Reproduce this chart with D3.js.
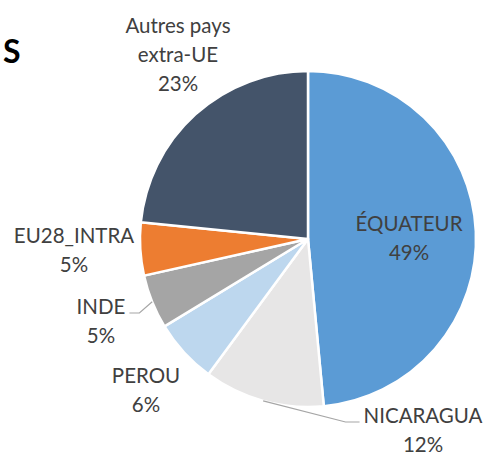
<!DOCTYPE html>
<html lang="fr">
<head>
<meta charset="UTF-8" />
<script src="https://cdnjs.cloudflare.com/ajax/libs/d3/7.8.5/d3.min.js"></script>
<title>Pie</title>
<style>
body { margin: 0; background: #fff; }
svg { display: block; }
text { font-family: Lato, "Open Sans", sans-serif; fill: #404040; }
</style>
</head>
<body>
<div id="chart"></div>
<script>

// data, clockwise from 12 o'clock
const categories = ['ÉQUATEUR', 'NICARAGUA', 'PEROU', 'INDE', 'EU28_INTRA', 'Autres pays extra-UE'];
const shares = [48.5, 11.6, 6.2, 5.2, 5.1, 23.4];
const shareLabels = ['49%', '12%', '6%', '5%', '5%', '23%'];
const colors = ['#5B9BD5', '#E7E6E6', '#BDD7EE', '#A5A5A5', '#ED7D31', '#44546A'];

// label text lines
const labelLines = [
  ['ÉQUATEUR'], ['NICARAGUA'], ['PEROU'], ['INDE'], ['EU28_INTRA'], ['Autres pays', 'extra-UE']
];

const width = 485, height = 456;
const cx = 308, cy = 239, radius = 168;
const lineH = 29;
const fontSize = 20.5;

// first-line baseline position of each label (x = text centre)
const labelPos = [
  { x: 409, y: 231 },
  { x: 423, y: 423, leader: 'right' },
  { x: 146, y: 383 },
  { x: 101, y: 314, leader: 'left' },
  { x: 74,  y: 243 },
  { x: 178, y: 33 }
];

const svg = d3.select('#chart').append('svg')
  .attr('width', width)
  .attr('height', height);

const pie = d3.pie().sort(null).value(d => d)(shares);
const arc = d3.arc().innerRadius(0).outerRadius(radius);

const g = svg.append('g').attr('transform', `translate(${cx},${cy})`);

g.selectAll('path.slice')
  .data(pie)
  .join('path')
  .attr('class', 'slice')
  .attr('d', arc)
  .attr('fill', (d, i) => colors[i])
  .attr('stroke', '#fff')
  .attr('stroke-width', 2.5)
  .attr('stroke-linejoin', 'round');

// leader lines
pie.forEach((d, i) => {
  const p = labelPos[i];
  if (!p.leader) return;
  const a = (d.startAngle + d.endAngle) / 2;
  const sx = cx + radius * Math.sin(a);
  const sy = cy - radius * Math.cos(a);
  const w = textWidth(labelLines[i][0]);
  const ly = p.y - 1;
  let ex, kx;
  if (p.leader === 'left') {
    ex = p.x + w / 2 + 4;
    kx = ex + 10;
  } else {
    ex = p.x - w / 2 - 4;
    kx = ex - 14;
  }
  svg.append('path')
    .attr('d', d3.line()([[sx, sy], [kx, ly], [ex, ly]]))
    .attr('fill', 'none')
    .attr('stroke', '#A6A6A6')
    .attr('stroke-width', 1.2);
});

// labels
labelLines.forEach((lines, i) => {
  const p = labelPos[i];
  const t = svg.append('text')
    .attr('text-anchor', 'middle')
    .style('font-size', fontSize + 'px');
  lines.concat([shareLabels[i]]).forEach((s, k) => {
    t.append('tspan')
      .attr('x', p.x)
      .attr('y', p.y + k * lineH)
      .text(s);
  });
});

// cut-off title letter
svg.append('text')
  .attr('x', 3)
  .attr('y', 63)
  .style('font-size', '32px')
  .style('font-weight', '700')
  .style('fill', '#000')
  .text('S');

function textWidth(s) {
  const t = svg.append('text').style('font-size', fontSize + 'px').text(s);
  const w = t.node().getComputedTextLength();
  t.remove();
  return w;
}

</script>
</body>
</html>
